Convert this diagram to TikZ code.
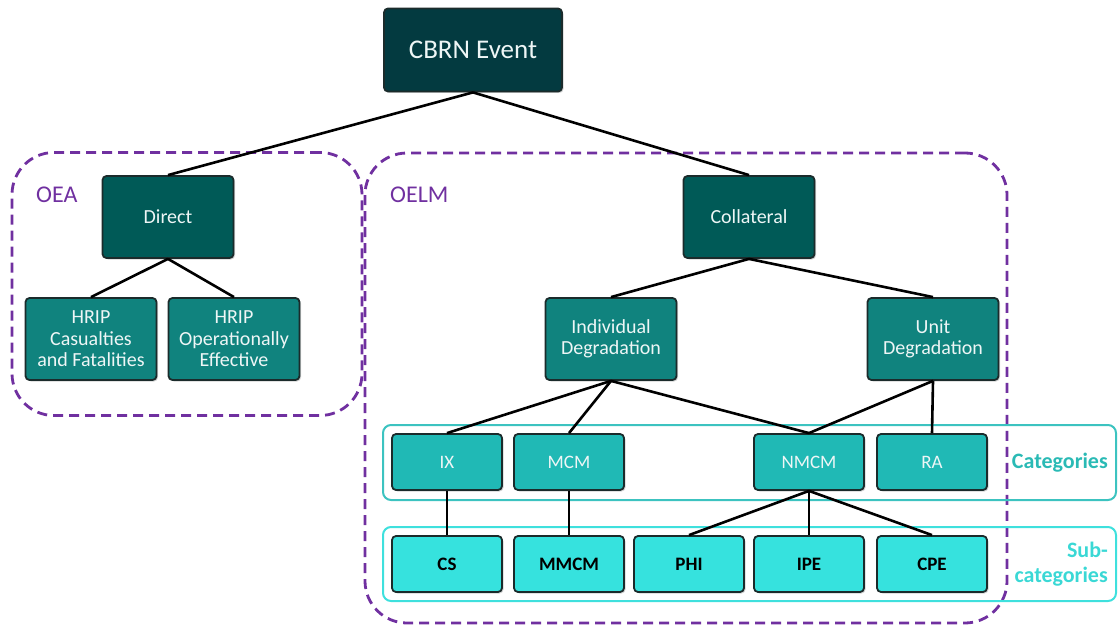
\documentclass[tikz,border=0pt]{standalone}
\usepackage{fontspec}
\setmainfont{Carlito}
\usetikzlibrary{shadows}
\definecolor{cbrn}{HTML}{033A40}
\definecolor{lvlone}{HTML}{005A57}
\definecolor{lvltwo}{HTML}{10837E}
\definecolor{lvlcat}{HTML}{20B9B5}
\definecolor{lvlsub}{HTML}{36E2DE}
\definecolor{boxline}{HTML}{1B2B2B}
\definecolor{oepurple}{HTML}{7030A0}
\definecolor{catline}{HTML}{3CC3C0}
\definecolor{subline}{HTML}{3EE0DD}
\definecolor{cattext}{HTML}{2ABAB5}
\definecolor{subtext}{HTML}{3AD8D5}
\definecolor{lighttext}{HTML}{EEF6F6}
\begin{document}
\begin{tikzpicture}[x=1pt,y=-1pt,
  box/.style={draw=boxline, line width=1.8pt, rounded corners=4pt, text=lighttext, align=center, inner sep=0pt,
    drop shadow={shadow xshift=1.5pt, shadow yshift=-1.5pt, opacity=0.35},
    font=\fontsize{20}{21.5}\selectfont},
  bigbox/.style={box, minimum width=131pt, minimum height=82pt},
  catbox/.style={box, fill=lvlcat, minimum width=110pt, minimum height=56pt, font=\fontsize{19}{21}\selectfont},
  subbox/.style={box, fill=lvlsub, text=black, minimum width=110pt, minimum height=56pt, font=\fontsize{19}{21}\selectfont\bfseries},
  link/.style={line width=2.6pt, black},
  oezone/.style={draw=oepurple, line width=2.8pt, dash pattern=on 10pt off 6pt, rounded corners=42pt, inner sep=0pt},
  panel/.style={line width=2pt, rounded corners=8pt, inner sep=0pt},
  zonelabel/.style={text=oepurple, anchor=west, font=\fontsize{24}{26}\selectfont, inner sep=0pt}
]
\useasboundingbox (0,0) rectangle (1118,628);

% zones and panels
\node[oezone, minimum width=350pt, minimum height=263pt] (oea) at (187,284) {};
\node[oezone, minimum width=642pt, minimum height=470pt] (oelm) at (686,388) {};
\node[panel, draw=catline, minimum width=733pt, minimum height=75pt] (catpanel) at (749.5,462.5) {};
\node[panel, draw=subline, minimum width=733pt, minimum height=74pt] (subpanel) at (749.5,564) {};

\node[zonelabel] (oealabel) at (36,195) {OEA};
\node[zonelabel] (oelmlabel) at (390,195) {OELM};
\node[anchor=east, text=cattext, font=\fontsize{22}{24}\selectfont\bfseries, inner sep=0pt] (catlabel) at (1108,463) {Categories};
\node[anchor=east, text=subtext, align=right, font=\fontsize{22}{25}\selectfont\bfseries, inner sep=0pt] (sublabel) at (1108,564) {Sub-\\categories};

% boxes
\node[box, fill=cbrn, minimum width=178pt, minimum height=83pt, font=\fontsize{27}{30}\selectfont] (cbrn) at (473,50) {CBRN Event};
\node[bigbox, fill=lvlone] (direct) at (168,217) {Direct};
\node[bigbox, fill=lvlone] (coll) at (749,217) {Collateral};
\node[bigbox, fill=lvltwo] (hripcf) at (91,339) {HRIP\\Casualties\\and Fatalities};
\node[bigbox, fill=lvltwo] (hripoe) at (234,339) {HRIP\\Operationally\\Effective};
\node[bigbox, fill=lvltwo] (indiv) at (611,339) {Individual\\Degradation};
\node[bigbox, fill=lvltwo] (unit) at (933,339) {Unit\\Degradation};

\node[catbox] (ix) at (447,462) {IX};
\node[catbox] (mcm) at (569,462) {MCM};
\node[catbox] (nmcm) at (809,462) {NMCM};
\node[catbox] (ra) at (932,462) {RA};

\node[subbox] (cs) at (447,564) {CS};
\node[subbox] (mmcm) at (569,564) {MMCM};
\node[subbox] (phi) at (689,564) {PHI};
\node[subbox] (ipe) at (809,564) {IPE};
\node[subbox] (cpe) at (932,564) {CPE};

% connectors
\draw[link] (cbrn.south) -- (direct.north);
\draw[link] (cbrn.south) -- (coll.north);
\draw[link] (direct.south) -- (hripcf.north);
\draw[link] (direct.south) -- (hripoe.north);
\draw[link] (coll.south) -- (indiv.north);
\draw[link] (coll.south) -- (unit.north);
\draw[link] (indiv.south) -- (ix.north);
\draw[link] (indiv.south) -- (mcm.north);
\draw[link] (indiv.south) -- (nmcm.north);
\draw[link] (unit.south) -- (nmcm.north);
\draw[link] (unit.south) -- (ra.north);
\draw[link] (ix.south) -- (cs.north);
\draw[link] (mcm.south) -- (mmcm.north);
\draw[link] (nmcm.south) -- (phi.north);
\draw[link] (nmcm.south) -- (ipe.north);
\draw[link] (nmcm.south) -- (cpe.north);
\end{tikzpicture}
\end{document}
